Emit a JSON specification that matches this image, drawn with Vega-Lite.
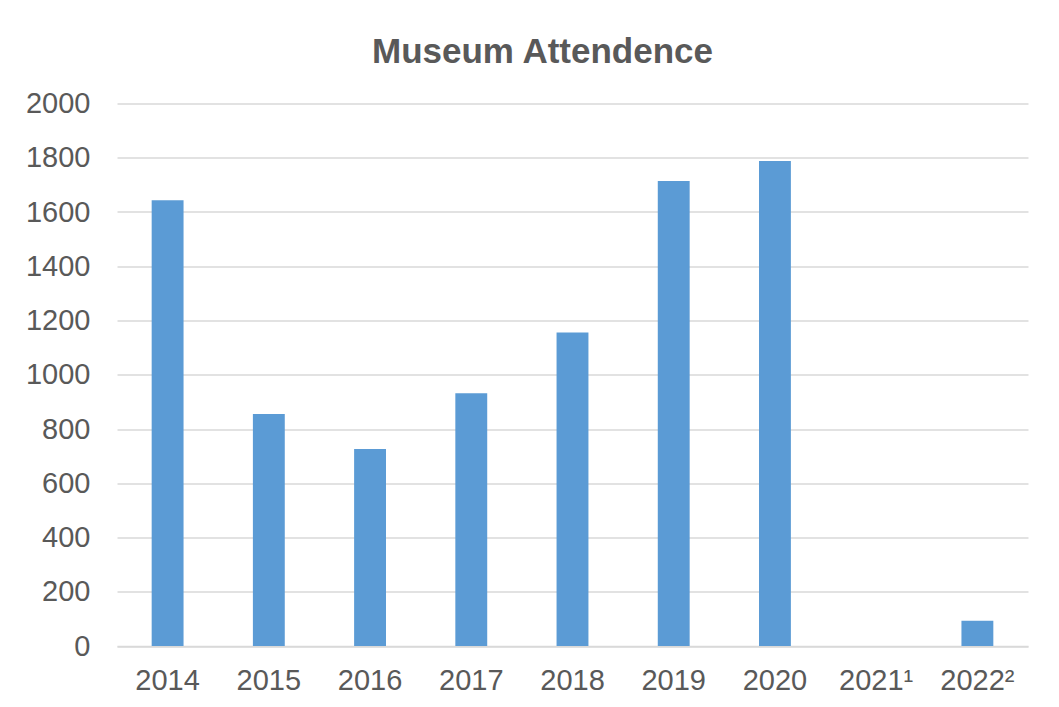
{
  "$schema": "https://vega.github.io/schema/vega-lite/v6.json",
  "autosize": {"type": "none"},
  "padding": {"left": 117, "top": 103.5, "right": 31, "bottom": 61},
  "width": 911,
  "height": 542.5,
  "background": "white",
  "config": {"view": {"stroke": null}, "font": "Liberation Sans"},
  "title": {
    "text": "Museum Attendence",
    "anchor": "middle",
    "frame": "group",
    "baseline": "alphabetic",
    "offset": -8,
    "dx": -30,
    "fontSize": 35,
    "fontWeight": "bold",
    "color": "#595959",
    "font": "Liberation Sans"
  },
  "data": {
    "values": [
      {"year": "2014", "attendance": 1643},
      {"year": "2015", "attendance": 855},
      {"year": "2016", "attendance": 726},
      {"year": "2017", "attendance": 932},
      {"year": "2018", "attendance": 1156},
      {"year": "2019", "attendance": 1714},
      {"year": "2020", "attendance": 1788},
      {"year": "2021¹", "attendance": 0},
      {"year": "2022²", "attendance": 93}
    ]
  },
  "mark": {"type": "bar", "color": "#5b9bd5"},
  "encoding": {
    "x": {
      "field": "year",
      "type": "nominal",
      "sort": null,
      "scale": {"paddingInner": 0.685, "paddingOuter": 0.3425},
      "axis": {
        "title": null,
        "labelAngle": 0,
        "labelFontSize": 29,
        "labelColor": "#595959",
        "labelPadding": 20,
        "ticks": false,
        "domainColor": "#d9d9d9",
        "domainWidth": 1.5,
        "grid": false
      }
    },
    "y": {
      "field": "attendance",
      "type": "quantitative",
      "scale": {"domain": [0, 2000], "nice": false},
      "axis": {
        "title": null,
        "format": "d",
        "values": [0, 200, 400, 600, 800, 1000, 1200, 1400, 1600, 1800, 2000],
        "labelFontSize": 29,
        "labelColor": "#595959",
        "labelPadding": 27,
        "ticks": false,
        "domain": false,
        "gridColor": "#d9d9d9",
        "gridWidth": 1.5
      }
    }
  }
}
